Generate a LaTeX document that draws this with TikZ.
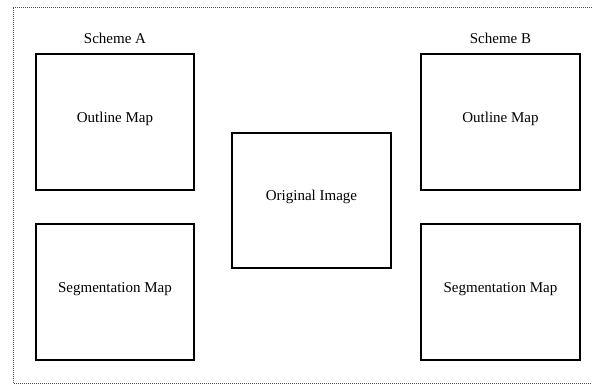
\documentclass[tikz,border=0pt]{standalone}
\usepackage{fontspec}
\setmainfont{Liberation Serif}
\begin{document}
\begin{tikzpicture}[x=1pt,y=-1pt,
  box/.style={draw=black,line width=1.8pt,fill=white,inner sep=0pt},
  lbl/.style={font=\fontsize{15}{18}\selectfont},
  frame/.style={draw=black!70,line width=0.9pt,dash pattern=on 0.9pt off 1.1pt}]
\useasboundingbox (0,0) rectangle (592,386);
\draw[frame] (600,7) -- (13,7) -- (13,383) -- (600,383);
\node[box,minimum width=158pt,minimum height=136pt] (oa) at (115,122) {};
\node[lbl] at ([yshift=3pt]oa.center) {Outline Map};
\node[box,minimum width=158pt,minimum height=136pt] (sa) at (115,292) {};
\node[lbl] at ([yshift=3pt]sa.center) {Segmentation Map};
\node[box,minimum width=159pt,minimum height=135pt] (oi) at (311.5,200.5) {};
\node[lbl] at ([yshift=4pt]oi.center) {Original Image};
\node[box,minimum width=159pt,minimum height=136pt] (ob) at (500.5,122) {};
\node[lbl] at ([yshift=3pt]ob.center) {Outline Map};
\node[box,minimum width=159pt,minimum height=136pt] (sb) at (500.5,292) {};
\node[lbl] at ([yshift=3pt]sb.center) {Segmentation Map};
\node[lbl,anchor=base] (ta) at ([yshift=10pt]oa.north) {Scheme A};
\node[lbl,anchor=base] (tb) at ([yshift=10pt]ob.north) {Scheme B};
\end{tikzpicture}
\end{document}
